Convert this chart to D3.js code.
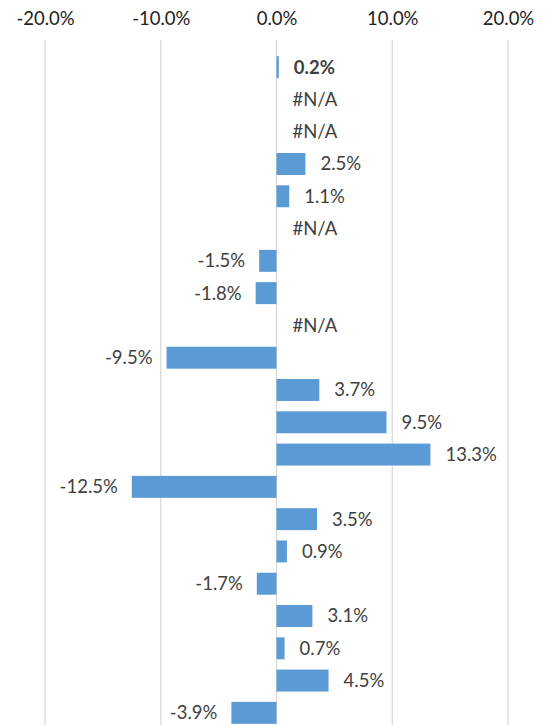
<!DOCTYPE html>
<html>
<head>
<meta charset="utf-8">
<script src="https://cdn.jsdelivr.net/npm/d3@7"></script>
<style>
  body { margin: 0; background: #fff; }
  text { font-family: Lato, "Open Sans", sans-serif; }
</style>
</head>
<body>
<svg width="551" height="725"></svg>
<script>
var svg = d3.select("svg");

// one value per row, null = #N/A
var rows = d3.range(21);
var values = [0.2, null, null, 2.5, 1.1, null, -1.5, -1.8, null, -9.5, 3.7, 9.5, 13.3, -12.5, 3.5, 0.9, -1.7, 3.1, 0.7, 4.5, -3.9];
var tickValues = [-20, -10, 0, 10, 20];

var x = d3.scaleLinear().domain([-20, 20]).range([45, 508]);
var y = d3.scaleBand().domain(rows).range([51, 729]).paddingInner(0.32).paddingOuter(0.16);

// gridlines
svg.append("g").selectAll("line").data(tickValues).enter().append("line")
  .attr("x1", d => x(d)).attr("x2", d => x(d))
  .attr("y1", 40).attr("y2", 725)
  .attr("stroke", "#d9d9d9").attr("stroke-width", 1.3);

// top axis labels
var axis = d3.axisTop(x).tickValues(tickValues).tickSize(0).tickFormat(d => d.toFixed(1) + "%");
var ax = svg.append("g").attr("transform", "translate(0,28)").call(axis);
ax.select(".domain").remove();
ax.selectAll("text").attr("font-size", 18.5).attr("fill", "#222").attr("font-family", "Lato, 'Open Sans', sans-serif");

// bars
svg.append("g").selectAll("rect").data(rows.filter(i => values[i] !== null)).enter().append("rect")
  .attr("x", i => x(Math.min(0, values[i])))
  .attr("y", i => y(i))
  .attr("width", i => Math.abs(x(values[i]) - x(0)))
  .attr("height", y.bandwidth())
  .attr("fill", "#5b9bd5");

// data labels
svg.append("g").selectAll("text").data(rows).enter().append("text")
  .attr("x", function(i) {
    var v = values[i];
    if (v === null) return x(0) + 16;
    return v < 0 ? x(v) - 14 : x(v) + 15;
  })
  .attr("y", i => y(i) + y.bandwidth() / 2)
  .attr("dy", "0.35em")
  .attr("text-anchor", i => (values[i] !== null && values[i] < 0) ? "end" : "start")
  .attr("font-size", 18.5)
  .attr("font-weight", i => i === 0 ? "bold" : "normal")
  .attr("fill", "#404040")
  .text(i => values[i] === null ? "#N/A" : values[i].toFixed(1) + "%");
</script>
</body>
</html>
